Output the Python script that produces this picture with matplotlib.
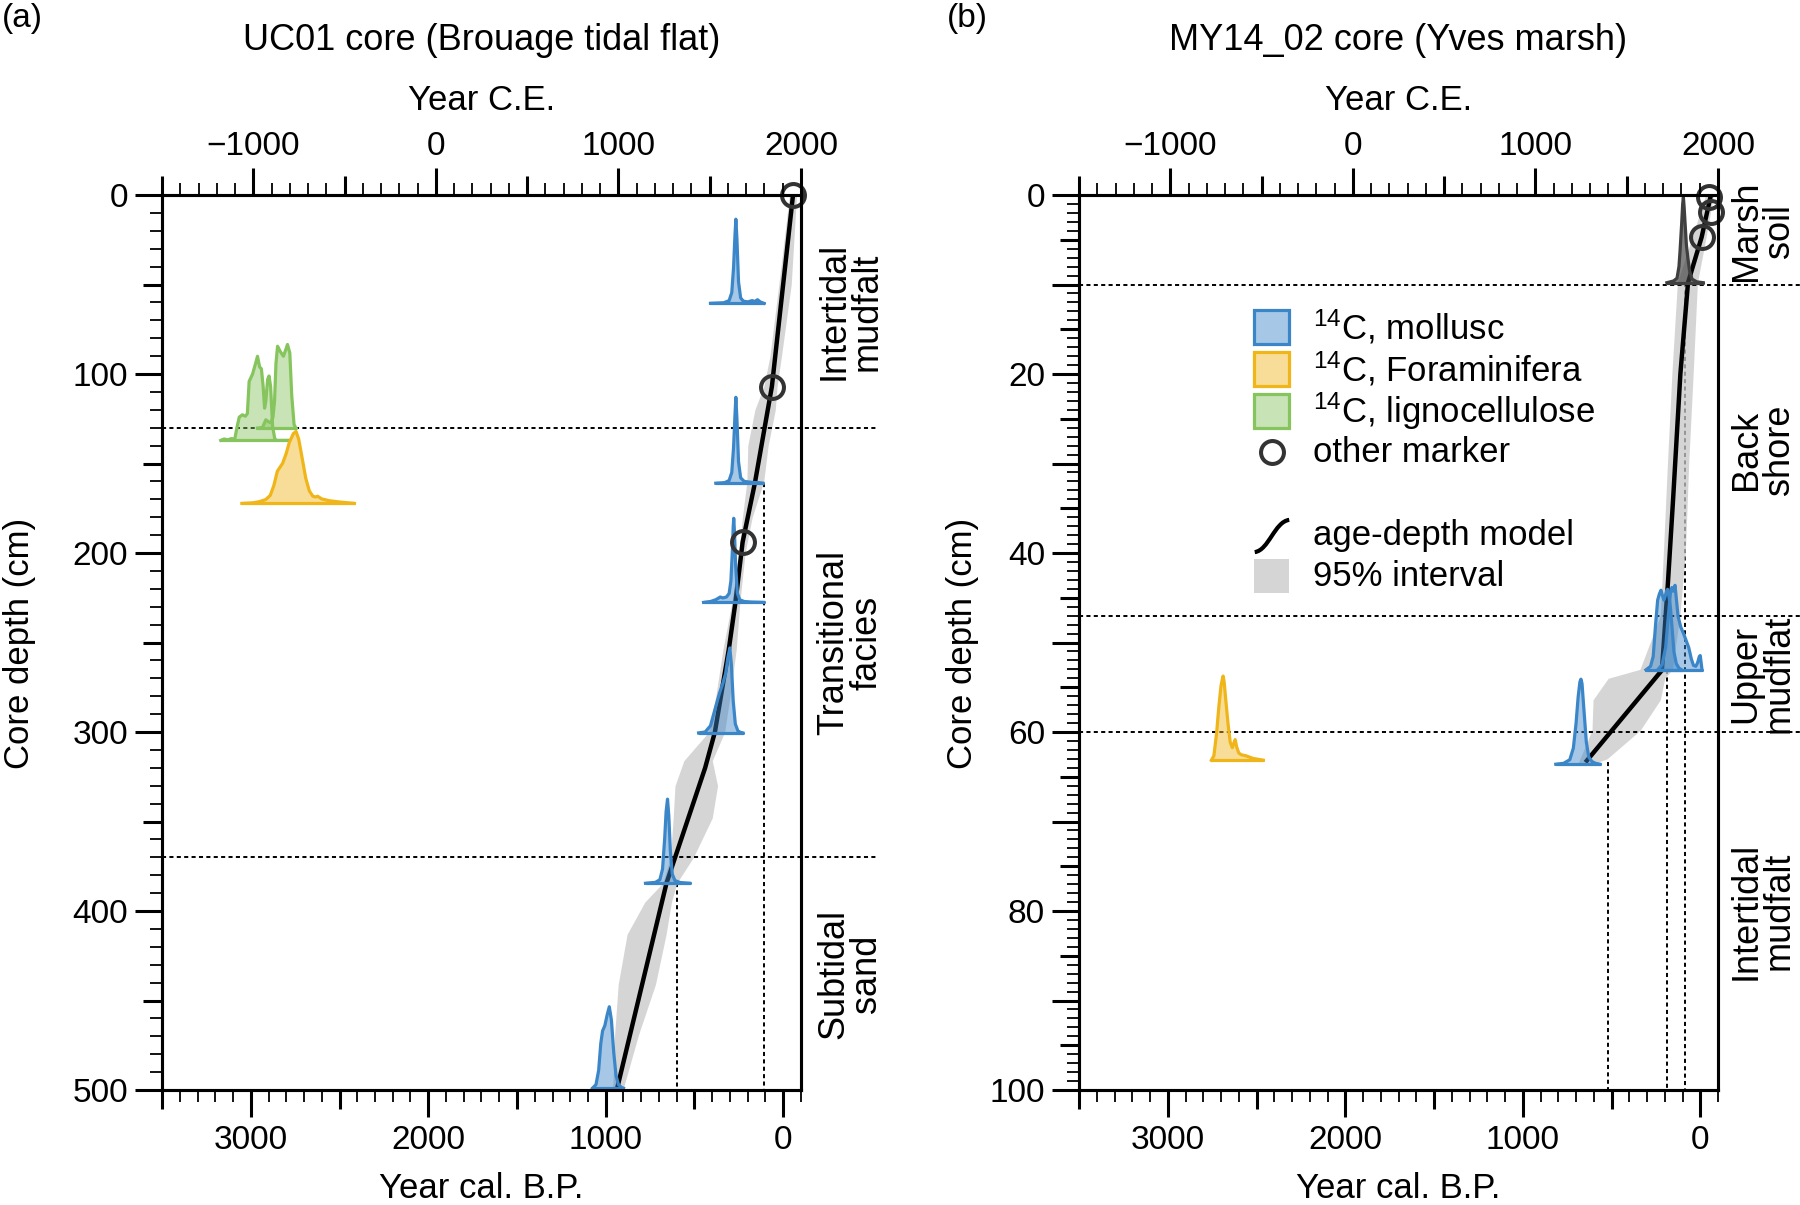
import numpy as np
import matplotlib
matplotlib.use("Agg")
import matplotlib.pyplot as plt
import matplotlib.transforms as mtransforms
from matplotlib.ticker import MultipleLocator, FixedLocator, NullFormatter
from matplotlib.patches import Rectangle, PathPatch
from matplotlib.path import Path

plt.rcParams['font.family'] = ['Liberation Sans', 'DejaVu Sans']
plt.rcParams['mathtext.default'] = 'regular'

# ---- data (x = year cal. B.P., y = core depth) ----
# UC01 core (left)
uc01_bounds = [130, 370]
uc01_zone_labels = ["Intertidal\nmudfalt", "Transitional\nfacies", "Subtidal\nsand"]
uc01_zone_mid = [65, 250, 435]

uc01_model_depth = [0, 107, 161, 194, 228, 254, 300, 320, 384.5, 500]
uc01_model_bp = [-55, 64, 160, 229, 270, 307, 385, 440, 658, 938]

uc01_band_depth = [0, 50, 90, 107, 120, 140, 160, 180, 200, 228, 254, 280, 300,
                   316, 330, 348, 370, 384.5, 395, 413, 441, 469, 497, 500]
uc01_band_old = [-35, 25, 75, 110, 160, 200, 205, 230, 250, 290, 340, 380, 420,
                 560, 610, 620, 636, 680, 780, 880, 930, 950, 960, 965]
uc01_band_young = [-75, -45, 10, 35, 45, 85, 110, 175, 215, 245, 265, 300, 330,
                   400, 370, 400, 506, 600, 630, 660, 720, 815, 895, 900]

uc01_marker_bp = [-55, 64, 229]
uc01_marker_depth = [0, 107, 194]

uc01_vline_bp = [107, 601]
uc01_vline_top = [161, 384.5]

# calibrated ages: (baseline depth, ages, relative height in cm)
uc01_mollusc = [
    (60.5, [410, 335, 305, 290, 280, 272, 267, 261, 252, 240, 225, 200, 175, 160, 145, 130, 110],
     [0, 0.3, 1.5, 6, 20, 38, 47, 36, 12, 3, 1.2, 0.8, 1.5, 1.0, 2.0, 0.8, 0]),
    (161, [380, 330, 305, 290, 280, 272, 267, 261, 252, 240, 220, 180, 140, 115],
     [0, 0.3, 1.5, 6, 20, 38, 48, 36, 12, 3, 1, 0.5, 0.3, 0]),
    (227.6, [449, 410, 380, 355, 340, 320, 305, 295, 287, 282, 279, 275, 268, 258, 245, 220, 180, 140, 110],
     [0, 0.5, 1.5, 3, 2.5, 3, 5, 12, 28, 42, 47, 40, 20, 5, 1.5, 0.5, 0.2, 0.1, 0]),
    (300.5, [477, 440, 410, 385, 360, 341, 325, 312, 301, 292, 282, 270, 255, 240, 228],
     [0, 0.5, 4, 13, 22, 27.5, 33, 42, 47.5, 38, 18, 5, 1, 0.3, 0]),
    (384.5, [776, 720, 695, 680, 668, 660, 652, 645, 636, 625, 610, 580, 527],
     [0, 0.5, 2, 8, 25, 40, 47, 38, 18, 5, 1.5, 0.4, 0]),
    (499, [1075, 1055, 1040, 1028, 1018, 1005, 992, 980, 968, 955, 942, 928, 912, 900],
     [0, 2, 10, 25, 32, 35, 41, 45.5, 38, 20, 7, 2, 0.5, 0]),
]
uc01_foram = [
    (172.3, [3050, 2990, 2950, 2915, 2890, 2870, 2850, 2820, 2800, 2783, 2760, 2745, 2730,
             2708, 2690, 2670, 2650, 2635, 2623, 2600, 2557, 2500, 2416],
     [0, 0.3, 1.0, 2.2, 4.5, 10, 18, 22.5, 28, 34, 39, 40.2, 36, 24, 14, 7, 4, 3.6, 4, 2.5, 1.5, 0.8, 0]),
]
uc01_ligno = [
    (137.1, [3169, 3150, 3130, 3110, 3090, 3078, 3065, 3047, 3030, 3019, 3009, 2990, 2970, 2962,
             2950, 2940, 2930, 2922, 2915, 2905, 2897, 2888, 2877, 2865, 2855, 2783],
     [0, 0.8, 0.3, 1.0, 0.8, 7, 13, 14.3, 13.5, 15, 33, 37, 44, 47, 41, 40, 30, 18, 22, 34, 36,
      30, 8, 1, 0, 0]),
    (130.2, [2962, 2934, 2915, 2900, 2887, 2875, 2866, 2858, 2849, 2835, 2816, 2802, 2793, 2780,
             2769, 2756, 2746],
     [0, 0.3, 4.6, 3.5, 3, 6, 15, 36, 45.7, 43, 40.1, 44, 46.7, 42, 18, 2, 0]),
]

# MY14_02 core (right)
my14_bounds = [10, 47, 60]
my14_zone_labels = ["Marsh\nsoil", "Back\nshore", "Upper\nmudflat", "Intertidal\nmudfalt"]
my14_zone_mid = [4, 28.5, 53.5, 80]

my14_model_depth = [0, 4.7, 9.8, 20, 34, 43.3, 53.1, 63.2]
my14_model_bp = [-60, -8, 69, 112, 153, 182, 216, 639]

my14_band_depth = [0, 5, 9.8, 20, 30, 40, 47, 53, 54, 56.4, 59.8, 63, 63.6]
my14_band_old = [-30, 50, 129, 160, 185, 208, 225, 340, 519, 604, 610, 678, 690]
my14_band_young = [-75, -30, 16, 40, 65, 84, 115, 157, 200, 225, 338, 525, 610]

my14_marker_bp = [-49, -60, -10]
my14_marker_depth = [0.2, 1.9, 4.7]

my14_vline_bp = [86, 188, 520]
my14_vline_top = [9.8, 53.1, 63.4]

my14_other = [
    (9.8, [188, 150, 131, 120, 114, 105, 99, 95, 91, 85, 78, 70, 60, 46, 20, -17],
     [0, 0.2, 0.5, 1.8, 3.5, 6.5, 8.8, 9.55, 8.5, 6.5, 4.2, 2.8, 1.3, 0.4, 0.1, 0]),
]
my14_mollusc = [
    (53.06, [306, 280, 265, 252, 240, 230, 221, 213, 205, 198, 190, 184, 176, 168, 158, 148, 135, 120, 105],
     [0, 0.4, 1.5, 5, 7.8, 8.5, 8.9, 8.3, 7.8, 8.2, 8.8, 9.0, 8.2, 7, 4.5, 2, 0.7, 0.2, 0]),
    (53.06, [240, 215, 195, 180, 168, 160, 152, 146, 142, 135, 125, 110, 93, 78, 65, 50, 38, 25,
             15, 5, 0, -5, -10],
     [0, 0.6, 2.5, 6, 8.6, 9.2, 8.8, 9.2, 9.45, 8, 6, 4.8, 4.0, 3.2, 2.5, 1.2, 0.5, 0.4, 0.8,
      1.5, 1.6, 0.8, 0]),
    (63.6, [814, 770, 735, 715, 700, 688, 678, 672, 666, 655, 642, 628, 610, 590, 565],
     [0, 0.1, 0.5, 1.8, 4.5, 7.5, 9.2, 9.5, 9, 6, 2.5, 0.8, 0.3, 0.1, 0]),
]
my14_foram = [
    (63.15, [2754, 2740, 2725, 2712, 2700, 2693, 2688, 2682, 2672, 2660, 2648, 2636, 2628, 2620,
             2612, 2600, 2585, 2560, 2520, 2462],
     [0, 0.5, 3, 6, 8.3, 9.0, 9.4, 8.7, 6.5, 4, 2, 1.4, 1.9, 2.3, 1.5, 0.8, 0.6, 0.5, 0.2, 0]),
]

legend_labels = ["$^{14}$C, mollusc", "$^{14}$C, Foraminifera", "$^{14}$C, lignocellulose",
                 "other marker", "age-depth model", "95% interval"]

BLUE = '#3b86c8'
YELLOW = '#efb519'
GREEN = '#86c45d'
DARK = '#3f3f3f'
FS = 25
TL_LONG, TL_MID, TL_SHORT = 19.5, 14, 8.7


def draw_dist(ax, dist, color, alpha=0.45):
    base, bp, h = dist
    bp = np.asarray(bp, float)
    top = base - np.asarray(h, float)
    ax.fill_between(bp, base, top, facecolor=color, alpha=alpha, lw=0, zorder=3)
    ax.plot(bp, top, color=color, lw=2.3, zorder=3.5, solid_joinstyle='round')
    ax.plot([bp.min(), bp.max()], [base, base], color=color, lw=2.3, zorder=3.5,
            solid_capstyle='round')


def mid_ticks_x(ax, where, locs):
    sec = ax.secondary_xaxis(where)
    sec.xaxis.set_major_locator(FixedLocator(locs))
    sec.xaxis.set_major_formatter(NullFormatter())
    sec.tick_params(length=TL_MID, width=2.2, direction='out')
    for s in sec.spines.values():
        s.set_visible(False)


def mid_ticks_y(ax, locs):
    sec = ax.secondary_yaxis('left')
    sec.yaxis.set_major_locator(FixedLocator(locs))
    sec.yaxis.set_major_formatter(NullFormatter())
    sec.tick_params(length=TL_MID, width=2.2, direction='out')
    for s in sec.spines.values():
        s.set_visible(False)


def setup(ax, ymax, ymajor, ylabels, ymid, yminor):
    ax.set_xlim(3500, -100)
    ax.set_ylim(ymax, 0)
    ax.xaxis.set_major_locator(FixedLocator([3000, 2000, 1000, 0]))
    ax.xaxis.set_minor_locator(MultipleLocator(100))
    ax.yaxis.set_major_locator(FixedLocator(ymajor))
    ax.set_yticklabels(ylabels)
    ax.yaxis.set_minor_locator(MultipleLocator(yminor))
    ax.tick_params(which='major', direction='out', length=TL_LONG, width=2.2, labelsize=FS - 1)
    ax.tick_params(which='minor', direction='out', length=TL_SHORT, width=1.3)
    ax.tick_params(axis='x', pad=6)
    ax.tick_params(axis='y', pad=5)
    for s in ax.spines.values():
        s.set_linewidth(2.2)
    mid_ticks_x(ax, 'bottom', [3500, 2500, 1500, 500])
    mid_ticks_y(ax, ymid)

    top = ax.twiny()
    top.set_xlim(-1500, 2000)
    top.xaxis.set_major_locator(FixedLocator([-1000, 0, 1000, 2000]))
    top.xaxis.set_minor_locator(MultipleLocator(100))
    top.tick_params(which='major', direction='out', length=TL_LONG, width=2.2, labelsize=FS - 1, pad=4)
    top.tick_params(which='minor', direction='out', length=TL_SHORT, width=1.3)
    for s in top.spines.values():
        s.set_linewidth(2.2)
    mid_ticks_x(top, 'top', [-1500, -500, 500, 1500])


def hlines(ax, depths, xend):
    tr = mtransforms.blended_transform_factory(ax.transAxes, ax.transData)
    for d in depths:
        ax.plot([0, xend], [d, d], transform=tr, color='k', lw=1.4, ls=(0, (2.1, 1.7)),
                clip_on=False, zorder=2.6)


def zone_text(ax, mids, labels, xpos):
    tr = mtransforms.blended_transform_factory(ax.transAxes, ax.transData)
    for m, lab in zip(mids, labels):
        ax.text(xpos, m, lab, transform=tr, rotation=90, ha='center', va='center',
                fontsize=FS + 1, linespacing=0.93, multialignment='center')


fig = plt.figure(figsize=(18, 12.05), dpi=100)
bottom = 1 - 1090 / 1205
height = 895 / 1205
axL = fig.add_axes([162 / 1800, bottom, 639 / 1800, height])
axR = fig.add_axes([1079 / 1800, bottom, 639 / 1800, height])

setup(axL, 500, list(range(0, 501, 100)), [str(v) for v in range(0, 501, 100)],
      list(range(50, 500, 100)), 10)
setup(axR, 100, list(range(0, 101, 10)),
      [str(v) if v % 20 == 0 else '' for v in range(0, 101, 10)],
      list(range(5, 100, 10)), 1)

# ---- left panel ----
axL.fill_betweenx(uc01_band_depth, uc01_band_old, uc01_band_young, color='#c8c8c8',
                  alpha=0.75, lw=0, zorder=1.5)
for bp, top in zip(uc01_vline_bp, uc01_vline_top):
    axL.plot([bp, bp], [top, 500], color='k', lw=1.4, ls=(0, (2.1, 1.7)), zorder=1)
axL.plot(uc01_model_bp, uc01_model_depth, color='k', lw=3.2, zorder=2)
hlines(axL, uc01_bounds, 1.12)
for d in uc01_ligno:
    draw_dist(axL, d, GREEN)
for d in uc01_foram:
    draw_dist(axL, d, YELLOW)
for d in uc01_mollusc:
    draw_dist(axL, d, BLUE)
axL.plot(uc01_marker_bp, uc01_marker_depth, 'o', ms=16.5, mfc='none', mec='#333333',
         mew=2.9, clip_on=False, zorder=5)
zone_text(axL, uc01_zone_mid, uc01_zone_labels, 1.077)

# ---- right panel ----
axR.fill_betweenx(my14_band_depth, my14_band_old, my14_band_young, color='#c8c8c8',
                  alpha=0.75, lw=0, zorder=1.5)
for bp, top in zip(my14_vline_bp, my14_vline_top):
    axR.plot([bp, bp], [top, 100], color='k', lw=1.4, ls=(0, (2.1, 1.7)), zorder=1)
axR.plot(my14_model_bp, my14_model_depth, color='k', lw=3.2, zorder=2)
hlines(axR, my14_bounds, 1.13)
for d in my14_foram:
    draw_dist(axR, d, YELLOW)
for d in my14_mollusc:
    draw_dist(axR, d, BLUE)
for d in my14_other:
    draw_dist(axR, d, DARK, alpha=0.65)
axR.plot(my14_marker_bp, my14_marker_depth, 'o', ms=16.5, mfc='none', mec='#333333',
         mew=2.9, clip_on=False, zorder=5)
zone_text(axR, my14_zone_mid, my14_zone_labels, 1.07)

# ---- legend (drawn in axes fraction) ----
lx, tx = 0.302, 0.366
rows = [0.8525, 0.8056, 0.7587, 0.7128, 0.619, 0.5743]
bw, bh = 35 / 639, 34 / 895
for y, col in zip(rows[:3], [BLUE, YELLOW, GREEN]):
    axR.add_patch(Rectangle((lx - bw / 2, y - bh / 2), bw, bh, transform=axR.transAxes,
                            facecolor=matplotlib.colors.to_rgba(col, 0.45), edgecolor=col,
                            lw=2.3, zorder=6))
axR.plot([lx], [rows[3]], 'o', ms=16.5, mfc='none', mec='#333333', mew=2.9,
         transform=axR.transAxes, zorder=6)
y0, y1 = rows[4] - 0.018, rows[4] + 0.018
scurve = Path([(lx - 0.027, y0), (lx - 0.005, y0 + 0.002), (lx + 0.004, y1 - 0.002), (lx + 0.027, y1)],
              [Path.MOVETO, Path.CURVE4, Path.CURVE4, Path.CURVE4])
axR.add_patch(PathPatch(scurve, transform=axR.transAxes, fill=False, lw=3, ec='k', zorder=6))
axR.add_patch(Rectangle((lx - bw / 2, rows[5] - bh / 2), bw, bh, transform=axR.transAxes,
                        facecolor='#d5d5d5', edgecolor='none', zorder=6))
for y, lab in zip(rows, legend_labels):
    axR.text(tx, y, lab, transform=axR.transAxes, ha='left', va='center', fontsize=FS,
             zorder=6)

# ---- titles and axis labels ----
H = 1205.0
for cx, title in [(481.5, 'UC01 core (Brouage tidal flat)'),
                  (1398.5, 'MY14_02 core (Yves marsh)')]:
    fig.text(cx / 1800, 1 - 50 / H, title, ha='center', va='baseline', fontsize=FS + 1)
    fig.text(cx / 1800, 1 - 110 / H, 'Year C.E.', ha='center', va='baseline', fontsize=FS)
    fig.text(cx / 1800, 1 - 1198 / H, 'Year cal. B.P.', ha='center', va='baseline', fontsize=FS)
fig.text(2 / 1800, 1 - 27 / H, '(a)', ha='left', va='baseline', fontsize=FS - 1)
fig.text(947 / 1800, 1 - 27 / H, '(b)', ha='left', va='baseline', fontsize=FS - 1)
fig.text(19.5 / 1800, 1 - 643 / H, 'Core depth (cm)', rotation=90, ha='center', va='center',
         fontsize=FS)
fig.text(962 / 1800, 1 - 643 / H, 'Core depth (cm)', rotation=90, ha='center', va='center',
         fontsize=FS)

fig.savefig('out.png', dpi=100)
